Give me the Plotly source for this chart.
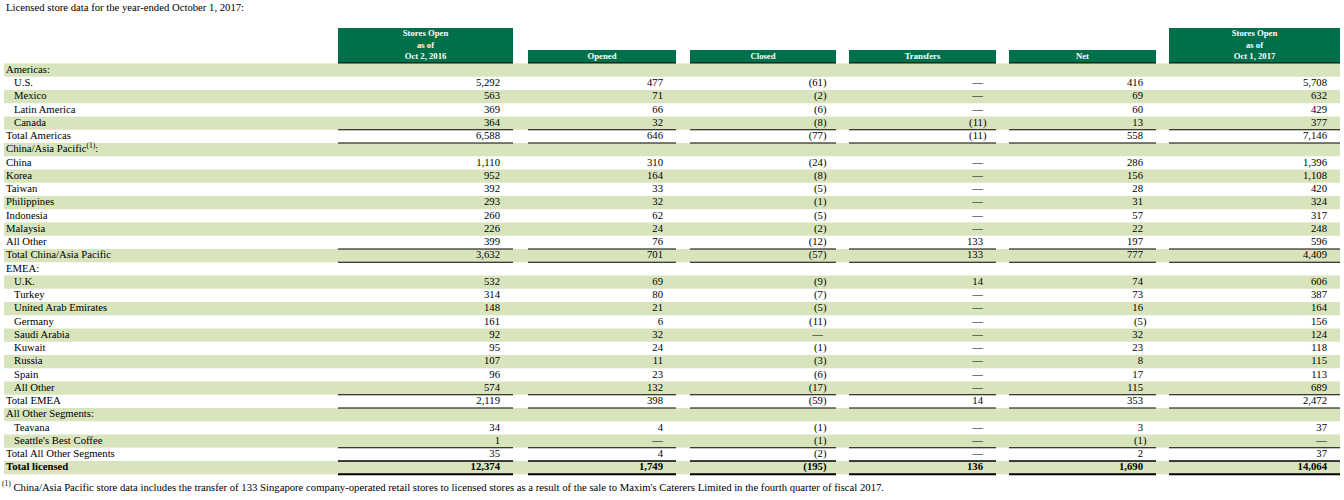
import plotly.graph_objects as go

# ---- data -------------------------------------------------------------
title_text = "Licensed store data for the year-ended October 1, 2017:"
footnote = ("<sup>(1)</sup> China/Asia Pacific store data includes the transfer of 133 Singapore "
            "company-operated retail stores to licensed stores as a result of the sale to "
            "Maxim's Caterers Limited in the fourth quarter of fiscal 2017.")

col_headers = ["Stores Open<br>as of<br>Oct 2, 2016", "Opened", "Closed", "Transfers", "Net",
               "Stores Open<br>as of<br>Oct 1, 2017"]

labels = ["Americas:", "U.S.", "Mexico", "Latin America", "Canada", "Total Americas",
          "China/Asia Pacific<sup>(1)</sup>:", "China", "Korea", "Taiwan", "Philippines",
          "Indonesia", "Malaysia", "All Other", "Total China/Asia Pacific",
          "EMEA:", "U.K.", "Turkey", "United Arab Emirates", "Germany", "Saudi Arabia",
          "Kuwait", "Russia", "Spain", "All Other", "Total EMEA",
          "All Other Segments:", "Teavana", "Seattle's Best Coffee", "Total All Other Segments",
          "Total licensed"]

# h = section heading, i = indented item, f = flush item, t = total, g = grand total
row_kind = ["h", "i", "i", "i", "i", "t",
            "h", "f", "f", "f", "f", "f", "f", "f", "t",
            "h", "i", "i", "i", "i", "i", "i", "i", "i", "i", "t",
            "h", "i", "i", "t",
            "g"]

open_2016 = [None, 5292, 563, 369, 364, 6588,
             None, 1110, 952, 392, 293, 260, 226, 399, 3632,
             None, 532, 314, 148, 161, 92, 95, 107, 96, 574, 2119,
             None, 34, 1, 35,
             12374]
opened = [None, 477, 71, 66, 32, 646,
          None, 310, 164, 33, 32, 62, 24, 76, 701,
          None, 69, 80, 21, 6, 32, 24, 11, 23, 132, 398,
          None, 4, 0, 4,
          1749]
closed = [None, -61, -2, -6, -8, -77,
          None, -24, -8, -5, -1, -5, -2, -12, -57,
          None, -9, -7, -5, -11, 0, -1, -3, -6, -17, -59,
          None, -1, -1, -2,
          -195]
transfers = [None, 0, 0, 0, -11, -11,
             None, 0, 0, 0, 0, 0, 0, 133, 133,
             None, 14, 0, 0, 0, 0, 0, 0, 0, 0, 14,
             None, 0, 0, 0,
             136]
net = [None, 416, 69, 60, 13, 558,
       None, 286, 156, 28, 31, 57, 22, 197, 777,
       None, 74, 73, 16, -5, 32, 23, 8, 17, 115, 353,
       None, 3, -1, 2,
       1690]
open_2017 = [None, 5708, 632, 429, 377, 7146,
             None, 1396, 1108, 420, 324, 317, 248, 596, 4409,
             None, 606, 387, 164, 156, 124, 118, 115, 113, 689, 2472,
             None, 37, 0, 37,
             14064]

columns = [open_2016, opened, closed, transfers, net, open_2017]

# ---- layout constants -------------------------------------------------
FONT = "Liberation Serif"
DARK = "#00704A"
LIGHT = "#D8E4BC"
col_edges = [(338, 513), (528, 676), (690, 836), (849, 996), (1009, 1156), (1169, 1340)]
tall = [True, False, False, False, False, True]
row_top = 63.5
row_h = 13.25
FS = 10.7


def fmt(v):
    if v is None:
        return ""
    if v == 0:
        return "\u2014"
    if v < 0:
        return "({:,})".format(-v)
    return "{:,}".format(v)


def yc(i):
    return row_top + row_h * (i + 0.5)


fig = go.Figure()
shapes = []

# alternating row bands
for i in range(len(labels)):
    if i % 2 == 0:
        shapes.append(dict(type="rect", xref="x", yref="y", x0=4, x1=1340,
                           y0=row_top + row_h * i, y1=row_top + row_h * (i + 1),
                           fillcolor=LIGHT, line_width=0, layer="below"))

# header boxes
for (x0, x1), is_tall in zip(col_edges, tall):
    shapes.append(dict(type="rect", xref="x", yref="y", x0=x0, x1=x1,
                       y0=28 if is_tall else 50, y1=row_top - 0.5,
                       fillcolor=DARK, line_width=0, layer="below"))
    shapes.append(dict(type="line", xref="x", yref="y", x0=x0, x1=x1,
                       y0=row_top - 0.5, y1=row_top - 0.5, line=dict(color="black", width=1.2)))

# rules above / below totals
for i, k in enumerate(row_kind):
    if k in ("t", "g"):
        for x0, x1 in col_edges:
            ya = row_top + row_h * i
            yb = row_top + row_h * (i + 1)
            shapes.append(dict(type="line", xref="x", yref="y", x0=x0, x1=x1, y0=ya, y1=ya,
                               line=dict(color="black", width=1)))
            shapes.append(dict(type="line", xref="x", yref="y", x0=x0, x1=x1, y0=yb, y1=yb,
                               line=dict(color="black", width=2 if k == "g" else 1)))

# row labels
label_x = [14 if k == "i" else 6 for k in row_kind]
label_txt = ["<b>" + t + "</b>" if k == "g" else t for t, k in zip(labels, row_kind)]
fig.add_trace(go.Scatter(x=label_x, y=[yc(i) for i in range(len(labels))], mode="text",
                         text=label_txt, textposition="middle right", cliponaxis=False,
                         textfont=dict(family=FONT, size=FS, color="black"),
                         hoverinfo="skip"))

# numbers
for (x0, x1), vals in zip(col_edges, columns):
    xs, ys, ts = [], [], []
    for i, v in enumerate(vals):
        if v is None:
            continue
        xs.append(x1 - 13 + (3.5 if v < 0 else 0))
        ys.append(yc(i))
        t = fmt(v)
        ts.append("<b>" + t + "</b>" if row_kind[i] == "g" else t)
    fig.add_trace(go.Scatter(x=xs, y=ys, mode="text", text=ts, textposition="middle left",
                             cliponaxis=False,
                             textfont=dict(family=FONT, size=FS, color="black"),
                             hoverinfo="skip"))

# column headers
hx = [(a + b) / 2 for a, b in col_edges]
hy = [45.5 if t else 56.5 for t in tall]
fig.add_trace(go.Scatter(x=hx, y=hy, mode="text",
                         text=["<b>" + h + "</b>" for h in col_headers],
                         textposition="middle center", cliponaxis=False,
                         textfont=dict(family=FONT, size=8.7, color="white"),
                         hoverinfo="skip"))

# title and footnote
fig.add_trace(go.Scatter(x=[6, 2], y=[8, 488], mode="text", text=[title_text, footnote],
                         textposition="middle right", cliponaxis=False,
                         textfont=dict(family=FONT, size=FS, color="black"),
                         hoverinfo="skip"))

fig.update_layout(
    width=1344, height=500,
    margin=dict(l=0, r=0, t=0, b=0),
    paper_bgcolor="white", plot_bgcolor="white",
    showlegend=False,
    shapes=shapes,
    xaxis=dict(range=[0, 1344], visible=False, fixedrange=True),
    yaxis=dict(range=[500, 0], visible=False, fixedrange=True),
)

# drop the browser's default 8px body margin so the figure sits at the page corner
fig.write_html("out.html", config={"displayModeBar": False},
               post_script="document.body.style.margin='0';document.body.style.overflow='hidden';")
